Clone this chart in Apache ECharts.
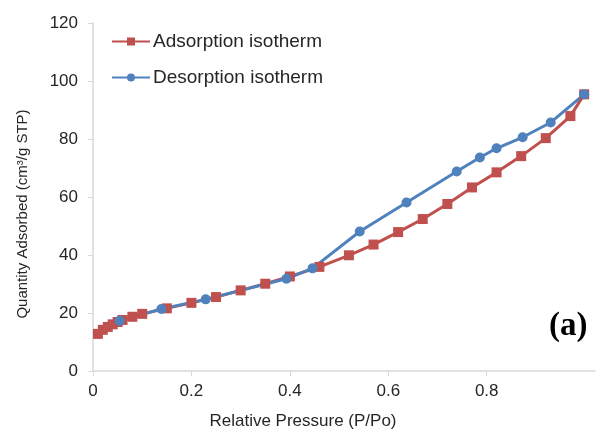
<!DOCTYPE html>
<html>
<head>
<meta charset="utf-8">
<script src="https://cdn.jsdelivr.net/npm/echarts@6/dist/echarts.min.js"></script>
<style>
  html, body { margin: 0; padding: 0; background: #fff; }
  #chart { width: 596px; height: 435px; }
</style>
</head>
<body>
<div id="chart"></div>
<script>
// adsorption branch (red squares)
var adsX = [0.01, 0.02, 0.03, 0.04, 0.05, 0.06, 0.08, 0.10, 0.15, 0.20, 0.25, 0.30, 0.35, 0.40, 0.46,
            0.52, 0.57, 0.62, 0.67, 0.72, 0.77, 0.82, 0.87, 0.92, 0.97, 0.998];
var adsY = [12.8, 14.2, 15.2, 16.1, 16.9, 17.6, 18.7, 19.7, 21.6, 23.5, 25.5, 27.8, 30.1, 32.6, 35.9,
            39.9, 43.6, 47.9, 52.4, 57.6, 63.3, 68.5, 74.1, 80.3, 87.9, 95.4];
// desorption branch (blue circles)
var desX = [0.054, 0.139, 0.229, 0.393, 0.446, 0.542, 0.637, 0.739, 0.786, 0.82, 0.873, 0.93, 0.998];
var desY = [17.3, 21.4, 24.7, 31.8, 35.4, 48.1, 58.1, 68.8, 73.6, 76.8, 80.6, 85.7, 95.4];
var xTicks = [0, 0.2, 0.4, 0.6, 0.8];

function pairs(xs, ys) {
    return xs.map(function (x, i) { return [x, ys[i]]; });
}

var myecharts = echarts.init(document.getElementById('chart'));

var option = {
    animation: false,
    textStyle: { fontFamily: 'Liberation Sans, Arial, sans-serif' },
    grid: { left: 93, right: 1, top: 23, bottom: 58 },
    legend: {
        orient: 'vertical',
        left: 106,
        top: 27,
        itemWidth: 38,
        itemHeight: 10,
        itemGap: 17,
        textStyle: { fontSize: 19, color: '#262626', padding: [0, 0, 0, -2] },
        data: ['Adsorption isotherm', 'Desorption isotherm']
    },
    xAxis: {
        type: 'value',
        min: 0,
        max: 1.02,
        interval: 0.2,
        name: 'Relative Pressure (P/Po)',
        nameLocation: 'middle',
        nameGap: 42,
        nameTextStyle: { fontSize: 17, color: '#262626', padding: [0, 82, 0, 0] },
        splitLine: { show: false },
        axisLine: { lineStyle: { color: '#d9d9d9', width: 1.5 } },
        axisTick: { show: true, length: 5, customValues: xTicks, lineStyle: { color: '#d9d9d9' } },
        axisLabel: { customValues: xTicks, fontSize: 17, color: '#262626', margin: 12 }
    },
    yAxis: {
        type: 'value',
        min: 0,
        max: 120,
        interval: 20,
        name: 'Quantity Adsorbed (cm³/g STP)',
        nameLocation: 'middle',
        nameGap: 63,
        nameTextStyle: { fontSize: 15, color: '#262626', padding: [0, 34, 0, 0] },
        splitLine: { show: false },
        axisLine: { show: true, lineStyle: { color: '#d9d9d9', width: 1.5 } },
        axisTick: { show: true, length: 5, lineStyle: { color: '#d9d9d9' } },
        axisLabel: { fontSize: 17, color: '#262626', margin: 15 }
    },
    series: [
        {
            name: 'Adsorption isotherm',
            type: 'line',
            data: pairs(adsX, adsY),
            symbol: 'rect',
            symbolSize: 10,
            color: '#c0504d',
            lineStyle: { width: 3, color: '#c0504d' },
            itemStyle: { color: '#c0504d' }
        },
        {
            name: 'Desorption isotherm',
            type: 'line',
            data: pairs(desX, desY),
            symbol: 'circle',
            symbolSize: 10,
            color: '#4f81bd',
            lineStyle: { width: 3, color: '#4f81bd' },
            itemStyle: { color: '#4f81bd' }
        }
    ],
    graphic: [
        {
            type: 'text',
            left: 549,
            top: 310,
            style: {
                text: '(a)',
                font: 'bold 33px "Liberation Serif", "Times New Roman", serif',
                fill: '#000'
            }
        }
    ]
};

myecharts.setOption(option);
</script>
</body>
</html>
